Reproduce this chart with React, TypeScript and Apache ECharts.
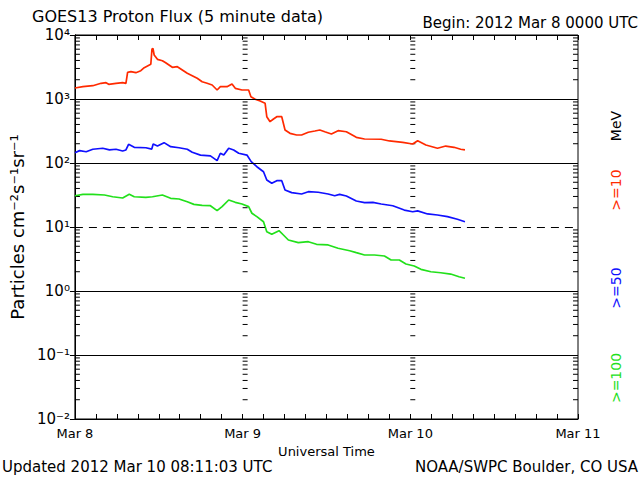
import React, { useEffect, useRef } from "react";
import * as echarts from "echarts";

// hours since 2012 Mar 8 00:00 UTC, flux
const redHours = [0, 1.14, 2.56, 3.74, 4.45, 4.84, 5.88, 6.83, 7.3, 7.54, 8.01, 8.72, 9.43, 9.92, 10.86, 11.03, 11.17, 11.34, 11.81, 12.52, 12.99, 13.94, 14.66, 15.37, 16.08, 16.79, 17.5, 18.21, 18.92, 19.64, 20.35, 20.82, 21.77, 22.48, 22.95, 23.91, 24.86, 25.19, 25.8, 26.51, 27.22, 27.46, 27.93, 28.42, 28.89, 29.6, 30.07, 30.78, 31.73, 32.44, 33.4, 34.34, 35.05, 35.76, 36.71, 37.66, 38.85, 40.27, 41.45, 43.83, 45.01, 46.91, 48.34, 49.05, 50.23, 51.89, 53.07, 54.26, 55.21, 55.82];
const redFlux = [1485, 1557, 1614, 1759, 1799, 1698, 1759, 1799, 1759, 2612, 2670, 2576, 2768, 3084, 3486, 6040, 6150, 4870, 4170, 3963, 3690, 3126, 3198, 2840, 2522, 2312, 2106, 1864, 1759, 1655, 1383, 1557, 1557, 1715, 1469, 1383, 1383, 1086, 989, 931, 857, 529, 442, 487, 529, 529, 328, 291, 274, 274, 302, 316, 328, 308, 284, 320, 308, 252, 237, 235, 221, 210, 198, 223, 191, 170, 184, 176, 164, 160];

const blueHours = [0, 0.67, 1.61, 2.56, 3.98, 4.94, 5.88, 6.83, 7.3, 7.68, 8.49, 10.15, 11.0, 11.2, 11.81, 12.76, 13.7, 14.9, 16.08, 16.79, 17.97, 19.39, 20.35, 20.82, 21.3, 22.01, 22.72, 23.44, 24.62, 25.23, 26.04, 26.99, 27.46, 28.17, 28.89, 29.6, 30.07, 31.02, 32.44, 33.4, 34.82, 36.24, 37.18, 37.89, 38.85, 40.27, 41.45, 42.64, 43.83, 45.49, 47.14, 48.34, 49.05, 50.47, 51.89, 53.32, 54.74, 55.82];
const blueFlux = [145, 156, 150, 164, 170, 160, 164, 154, 160, 196, 176, 173, 165, 198, 184, 208, 180, 173, 164, 147, 133, 129, 109, 142, 133, 170, 160, 142, 133, 105, 87.5, 73.1, 54.2, 48.2, 52.9, 52.9, 37.9, 34.4, 32.8, 35.6, 34.9, 32.8, 30.8, 32.4, 30.5, 25.5, 24.0, 24.2, 22.9, 21.5, 18.4, 17.3, 17.9, 16.0, 15.4, 14.5, 13.2, 12.1];

const greenHours = [0, 1.14, 2.56, 4.23, 5.41, 6.83, 7.78, 8.49, 10.15, 11.1, 12.52, 13.7, 14.9, 16.08, 17.03, 18.21, 19.39, 20.35, 21.06, 22.01, 22.95, 23.91, 24.86, 25.33, 26.04, 26.99, 27.46, 28.17, 29.21, 29.84, 30.55, 31.97, 33.4, 34.58, 36.24, 37.66, 39.32, 40.27, 41.45, 42.87, 44.3, 45.25, 46.43, 47.38, 48.56, 49.52, 50.94, 52.36, 53.78, 54.97, 55.82];
const greenFlux = [30.8, 32.4, 32.4, 31.6, 29.7, 28.4, 32.4, 29.7, 29.1, 29.7, 31.6, 28.1, 27.4, 24.8, 22.6, 21.8, 21.5, 18.0, 20.8, 26.4, 24.3, 22.9, 20.8, 16.4, 14.5, 12.1, 8.45, 7.69, 8.75, 7.5, 6.26, 5.69, 5.89, 5.37, 5.24, 4.65, 4.26, 3.97, 3.65, 3.65, 3.52, 3.05, 3.05, 2.64, 2.46, 2.18, 2.0, 1.93, 1.84, 1.67, 1.58];

const dayLabels = ["Mar 8", "Mar 9", "Mar 10", "Mar 11"];
const solidLevels = [1000, 100, 1, 0.1];
const dashedLevels = [10];
const decadeExponents = [-2, -1, 0, 1, 2, 3];
const minorTickHours = [0, 24, 48, 72];

const FONT = "DejaVu Sans";
const RED = "#ff2a00";
const BLUE = "#1010ff";
const GREEN = "#22e01b";

const supMap: Record<string, string> = { "-": "⁻", "0": "⁰", "1": "¹", "2": "²", "3": "³", "4": "⁴" };
const sup = (s: string) => s.split("").map((c) => supMap[c] || c).join("");

export default function App() {
  const ref = useRef<HTMLDivElement>(null);
  useEffect(() => {
    if (!ref.current) return;
    const chart = echarts.init(ref.current, null, { renderer: "svg" });

    const minorData: number[][] = [];
    minorTickHours.forEach((h) => {
      const dir = h === 72 ? -1 : 1;
      decadeExponents.forEach((e) => {
        for (let m = 2; m <= 9; m++) minorData.push([h, m * Math.pow(10, e), dir]);
      });
    });

    const zip = (xs: number[], ys: number[]) => xs.map((x, i) => [x, ys[i]]);

    const lineSeries = (name: string, xs: number[], ys: number[], color: string) => ({
      type: "line",
      name,
      data: zip(xs, ys),
      showSymbol: false,
      symbol: "none",
      lineStyle: { color, width: 1.7 },
      xAxisIndex: 0,
      yAxisIndex: 0,
      z: 3,
    });

    const option: any = {
      animation: false,
      backgroundColor: "#fff",
      textStyle: { fontFamily: FONT },
      grid: { left: 72, right: 62, top: 35, bottom: 61, show: true, borderColor: "#000", borderWidth: 1 },
      xAxis: [
        {
          type: "value",
          min: 0,
          max: 72,
          interval: 3,
          position: "bottom",
          axisLine: { show: true, lineStyle: { color: "#000" } },
          axisTick: { show: true, inside: true, length: 5, lineStyle: { color: "#000" } },
          splitLine: { show: false },
          axisLabel: {
            color: "#000",
            fontFamily: FONT,
            fontSize: 13,
            margin: 8,
            formatter: (v: number) => (v % 24 === 0 ? dayLabels[v / 24] : ""),
          },
          name: "Universal Time",
          nameLocation: "middle",
          nameGap: 23,
          nameTextStyle: { color: "#000", fontFamily: FONT, fontSize: 13 },
        },
        {
          type: "value",
          min: 0,
          max: 72,
          interval: 3,
          position: "top",
          axisLine: { show: true, lineStyle: { color: "#000" } },
          axisTick: { show: true, inside: true, length: 5, lineStyle: { color: "#000" } },
          splitLine: { show: false },
          axisLabel: { show: false },
        },
      ],
      yAxis: [
        {
          type: "log",
          logBase: 10,
          min: 0.01,
          max: 10000,
          position: "left",
          axisLine: { show: true, lineStyle: { color: "#000" } },
          axisTick: { show: true, inside: true, length: 5, lineStyle: { color: "#000" } },
          splitLine: { show: false },
          axisLabel: {
            color: "#000",
            fontFamily: FONT,
            fontSize: 15,
            margin: 5,
            formatter: (v: number) => "10" + sup(String(Math.round(Math.log10(v)))),
          },
          name: "Particles cm" + sup("-2") + "s" + sup("-1") + "sr" + sup("-1"),
          nameLocation: "middle",
          nameGap: 47,
          nameRotate: 90,
          nameTextStyle: { color: "#000", fontFamily: FONT, fontSize: 18 },
        },
        {
          type: "log",
          logBase: 10,
          min: 0.01,
          max: 10000,
          position: "right",
          axisLine: { show: true, lineStyle: { color: "#000" } },
          axisTick: { show: true, inside: true, length: 5, lineStyle: { color: "#000" } },
          splitLine: { show: false },
          axisLabel: { show: false },
        },
      ],
      series: [
        {
          type: "line",
          data: [],
          markLine: {
            silent: true,
            symbol: "none",
            label: { show: false },
            data: [
              ...solidLevels.map((v) => ({ yAxis: v, lineStyle: { color: "#000", width: 1, type: "solid" } })),
              ...dashedLevels.map((v) => ({ yAxis: v, lineStyle: { color: "#000", width: 1, type: [8, 6] } })),
            ],
          },
          z: 2,
        },
        {
          type: "custom",
          silent: true,
          data: minorData,
          renderItem: (params: any, api: any) => {
            const p = api.coord([api.value(0), api.value(1)]);
            const dir = api.value(2);
            return {
              type: "line",
              shape: { x1: p[0], y1: p[1], x2: p[0] + dir * 5, y2: p[1] },
              style: { stroke: "#000", lineWidth: 1 },
            };
          },
          z: 2,
        },
        lineSeries(">=10", redHours, redFlux, RED),
        lineSeries(">=50", blueHours, blueFlux, BLUE),
        lineSeries(">=100", greenHours, greenFlux, GREEN),
      ],
      graphic: [
        { type: "text", left: 32, top: 8, style: { text: "GOES13 Proton Flux (5 minute data)", fill: "#000", font: `16px '${FONT}'` } },
        { type: "text", right: 2, top: 15, style: { text: "Begin: 2012 Mar 8 0000 UTC", fill: "#000", font: `15px '${FONT}'` } },
        { type: "text", left: 2, top: 459, style: { text: "Updated 2012 Mar 10 08:11:03 UTC", fill: "#000", font: `15px '${FONT}'` } },
        { type: "text", right: 2, top: 459, style: { text: "NOAA/SWPC Boulder, CO USA", fill: "#000", font: `15px '${FONT}'` } },
        { type: "text", x: 616, y: 126, rotation: Math.PI / 2, style: { text: "MeV", fill: "#000", font: `14px '${FONT}'`, align: "center", verticalAlign: "middle" } },
        { type: "text", x: 616, y: 190, rotation: Math.PI / 2, style: { text: ">=10", fill: RED, font: `14px '${FONT}'`, align: "center", verticalAlign: "middle" } },
        { type: "text", x: 616, y: 288, rotation: Math.PI / 2, style: { text: ">=50", fill: BLUE, font: `14px '${FONT}'`, align: "center", verticalAlign: "middle" } },
        { type: "text", x: 616, y: 378, rotation: Math.PI / 2, style: { text: ">=100", fill: GREEN, font: `14px '${FONT}'`, align: "center", verticalAlign: "middle" } },
      ],
    };
    chart.setOption(option);
    return () => chart.dispose();
  }, []);
  return <div ref={ref} style={{ width: 640, height: 480, position: "absolute", left: 0, top: 0 }} />;
}
